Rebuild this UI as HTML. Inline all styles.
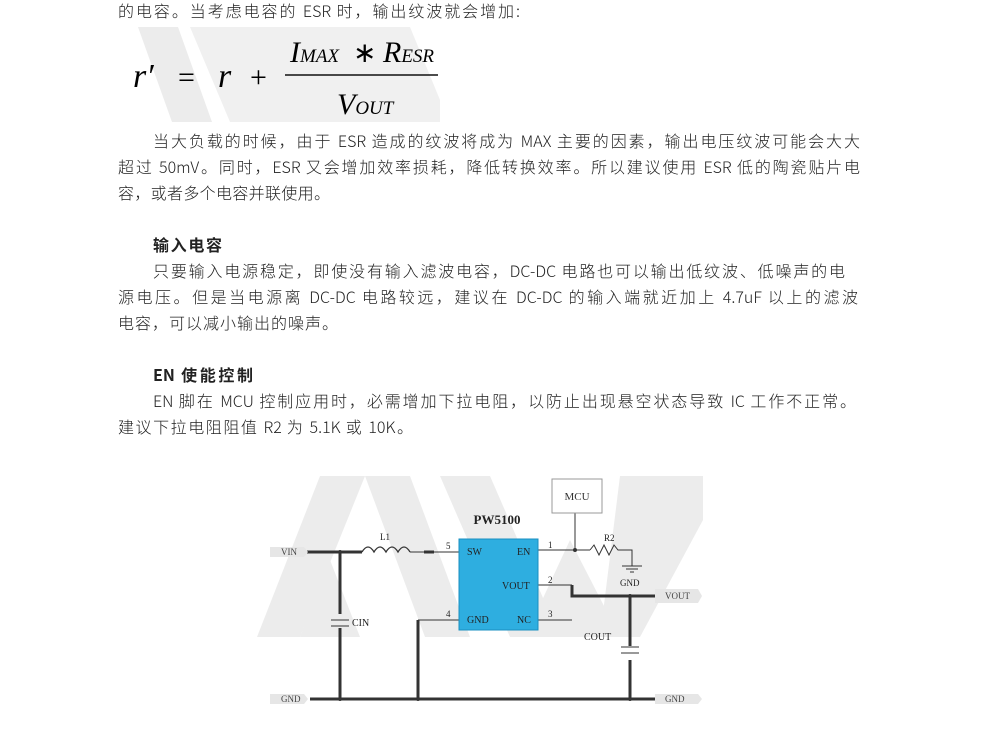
<!DOCTYPE html>
<html><head><meta charset="utf-8"><style>
body{margin:0;width:991px;height:741px;background:#fff;position:relative;overflow:hidden;font-family:"Liberation Sans","Noto Sans CJK SC",sans-serif;color:#222;}
.t{position:absolute;left:118px;font-size:16px;white-space:nowrap;line-height:20px;text-align:justify;text-align-last:justify;font-family:"Noto Sans CJK SC",sans-serif;color:#222;font-weight:300;}
.h{font-weight:bold;}
svg{position:absolute;left:0;top:0}
</style></head><body>
<div class="t" style="top:0px;width:402px">的电容。当考虑电容的 ESR 时，输出纹波就会增加:</div>
<div class="t" style="top:130px;left:153px;width:707px">当大负载的时候，由于 ESR 造成的纹波将成为 MAX 主要的因素，输出电压纹波可能会大大</div>
<div class="t" style="top:156px;width:742px">超过 50mV。同时，ESR 又会增加效率损耗，降低转换效率。所以建议使用 ESR 低的陶瓷贴片电</div>
<div class="t" style="top:182px;width:212px">容，或者多个电容并联使用。</div>
<div class="t h" style="top:234px;left:153px;width:69px">输入电容</div>
<div class="t" style="top:260px;left:153px;width:692px">只要输入电源稳定，即使没有输入滤波电容，DC-DC 电路也可以输出低纹波、低噪声的电</div>
<div class="t" style="top:286px;width:740px">源电压。但是当电源离 DC-DC 电路较远，建议在 DC-DC 的输入端就近加上 4.7uF 以上的滤波</div>
<div class="t" style="top:312px;width:220px">电容，可以减小输出的噪声。</div>
<div class="t h" style="top:364px;left:153px;width:100px">EN 使能控制</div>
<div class="t" style="top:390px;left:153px;width:703px">EN 脚在 MCU 控制应用时，必需增加下拉电阻，以防止出现悬空状态导致 IC 工作不正常。</div>
<div class="t" style="top:416px;width:295px">建议下拉电阻阻值 R2 为 5.1K 或 10K。</div>
<svg width="991" height="741" font-family="Liberation Serif,serif">
<polygon points="138,27 178,27 212,122 172,122" fill="#ececec"/>
<polygon points="190,27 420,27 440,60 440,122 230,122" fill="#f0f0f0"/>
<polygon points="410,27 440,27 440,100" fill="#fff"/>
<text x="133" y="87" font-size="34" font-style="italic">r′</text>
<text x="178" y="87" font-size="30">=</text>
<text x="218" y="87" font-size="34" font-style="italic">r</text>
<text x="250" y="87" font-size="30">+</text>
<text x="290" y="62" font-size="30" font-style="italic">I<tspan font-size="19">MAX</tspan></text>
<text x="353" y="62" font-size="28">∗</text>
<text x="383" y="62" font-size="30" font-style="italic">R<tspan font-size="19">ESR</tspan></text>
<line x1="285" y1="75" x2="438" y2="75" stroke="#111" stroke-width="1.5"/>
<text x="337" y="114" font-size="30" font-style="italic">V<tspan font-size="19">OUT</tspan></text>
<g fill="#ececec">
<polygon points="257,637 300,637 365,476 320,476"/>
<polygon points="365,476 410,476 470,637 425,637"/>
<polygon points="300,637 330,560 360,637"/>
<polygon points="440,476 490,476 560,637 510,637"/>
<polygon points="525,637 570,540 620,637"/>
<polygon points="620,476 703,476 703,520 640,637 600,637"/>
</g>
<g stroke="#333" fill="none">
<line x1="307" y1="552" x2="362" y2="552" stroke-width="3"/>
<path d="M362,552 q6,-10 12,0 q6,-10 12,0 q6,-10 12,0 q6,-10 12,0" stroke-width="1.3"/>
<line x1="410" y1="552" x2="459" y2="552" stroke-width="1"/>
<line x1="424" y1="552" x2="434" y2="552" stroke-width="3"/>
<line x1="340" y1="552" x2="340" y2="614" stroke-width="3"/>
<line x1="340" y1="628" x2="340" y2="699" stroke-width="3"/>
<line x1="331" y1="620" x2="349" y2="620" stroke-width="1"/><line x1="331" y1="626" x2="349" y2="626" stroke-width="1"/>
<line x1="310" y1="699" x2="655" y2="699" stroke-width="3"/>
<line x1="418" y1="620" x2="418" y2="699" stroke-width="3"/>
<line x1="418" y1="620" x2="459" y2="620" stroke-width="1"/>
<line x1="538" y1="550" x2="590" y2="550" stroke-width="1"/>
<line x1="575" y1="513" x2="575" y2="550" stroke-width="1"/>
<path d="M590,550 l4,-5 l5,10 l5,-10 l5,10 l5,-10 l4,5 L632,550 L632,566" stroke-width="1"/>
<line x1="622" y1="566" x2="642" y2="566"/><line x1="626" y1="569" x2="638" y2="569"/><line x1="630" y1="572" x2="634" y2="572"/>
<path d="M538,585 L572,585" stroke-width="1"/>
<path d="M572,585 L572,596 L655,596" stroke-width="3"/>
<line x1="630" y1="596" x2="630" y2="646" stroke-width="3"/>
<line x1="630" y1="660" x2="630" y2="699" stroke-width="3"/>
<line x1="621" y1="647" x2="639" y2="647"/><line x1="621" y1="653" x2="639" y2="653"/>
<line x1="538" y1="620" x2="572" y2="620" stroke-width="1"/>
</g>
<g fill="#333"><circle cx="340" cy="552" r="2"/><circle cx="575" cy="550" r="2"/><circle cx="630" cy="596" r="2"/><circle cx="340" cy="699" r="2"/><circle cx="418" cy="699" r="2"/><circle cx="630" cy="699" r="2"/></g>
<rect x="552" y="479" width="50" height="34" fill="#fff" stroke="#999"/>
<text x="577" y="500" font-size="11" text-anchor="middle" fill="#333">MCU</text>
<text x="497" y="524" font-size="13" font-weight="bold" text-anchor="middle" fill="#222">PW5100</text>
<rect x="459" y="539" width="79" height="91" fill="#2eaee0" stroke="#1a8fc0"/>
<g font-size="10" fill="#222">
<text x="467" y="555">SW</text><text x="517" y="555">EN</text><text x="502" y="589">VOUT</text>
<text x="467" y="623">GND</text><text x="517" y="623">NC</text>
<text x="446" y="549" font-size="9">5</text><text x="446" y="617" font-size="9">4</text>
<text x="548" y="548" font-size="9">1</text><text x="548" y="583" font-size="9">2</text><text x="548" y="617" font-size="9">3</text>
<text x="380" y="540" font-size="9">L1</text><text x="604" y="541" font-size="9">R2</text>
<text x="620" y="586" font-size="9">GND</text><text x="352" y="626">CIN</text><text x="584" y="640">COUT</text>
</g>
<g fill="#e6e6e6"><polygon points="270,547 304,547 308,552 304,557 270,557"/><polygon points="655,589 698,589 702,596 698,603 655,603"/>
<polygon points="270,694 304,694 308,699 304,704 270,704"/><polygon points="655,694 698,694 702,699 698,704 655,704"/></g>
<g font-size="9" fill="#444"><text x="281" y="555">VIN</text><text x="665" y="599">VOUT</text><text x="281" y="702">GND</text><text x="665" y="702">GND</text></g>
</svg>
</body></html>
